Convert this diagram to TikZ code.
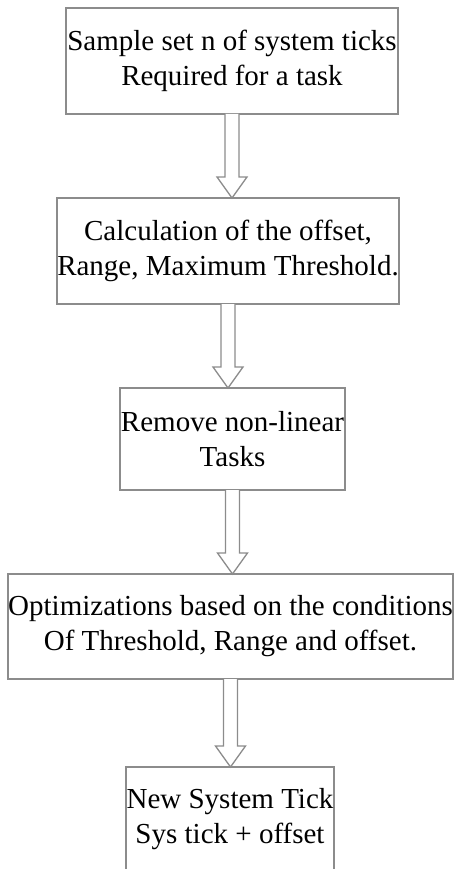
\documentclass[tikz,border=0pt]{standalone}
\usepackage{fontspec}
\setmainfont{Liberation Serif}
\usetikzlibrary{calc}

\begin{document}
\begin{tikzpicture}[x=1pt, y=-1pt,
        every node/.style={outer sep=0pt, inner sep=0pt},
        stepbox/.style={draw=black!45, line width=1.3pt, align=center, font=\fontsize{29}{35}\selectfont},
        blockarrow/.style={draw=black!45, line width=1.3pt, fill=white, line join=miter}]
        \useasboundingbox (0,0) rectangle (454,869);

        \node[stepbox, minimum width=332, minimum height=106] (sample) at (232, 61) {Sample set n of system ticks\\Required for a task};
        \node[stepbox, minimum width=342, minimum height=106] (calc) at (228, 251) {Calculation of the offset,\\Range, Maximum Threshold.};
        \node[stepbox, minimum width=225, minimum height=102] (remove) at (232.5, 439) {Remove non-linear\\Tasks};
        \node[stepbox, minimum width=445, minimum height=105] (optim) at (230.5, 626.5) {Optimizations based on the conditions\\Of Threshold, Range and offset.};
        \node[stepbox, minimum width=208, minimum height=104] (newtick) at (230, 819) {New System Tick\\Sys tick + offset};

        % hollow block arrows between the steps
        \foreach \a/\b in {sample/calc, calc/remove, remove/optim, optim/newtick}
          \draw[blockarrow] let \p1=(\a.south), \p2=(\b.north) in
            (\x1-7, \y1) -- (\x1-7, \y2+21) -- (\x1-15, \y2+21) -- (\x1, \y2)
            -- (\x1+15, \y2+21) -- (\x1+7, \y2+21) -- (\x1+7, \y1);
\end{tikzpicture}
\end{document}
